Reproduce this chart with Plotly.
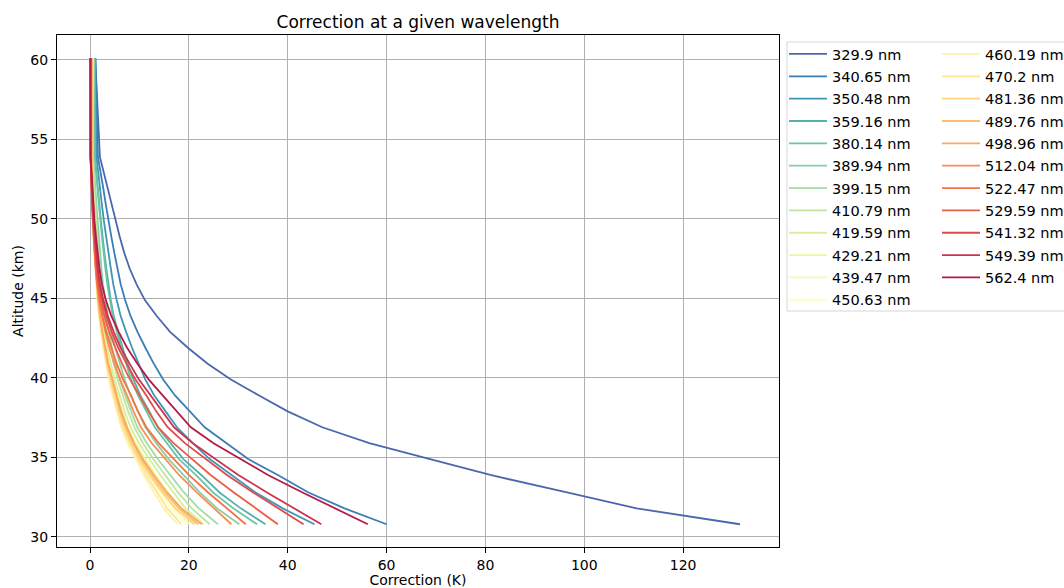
import plotly.graph_objects as go
import plotly.express as px
from plotly.colors import sample_colorscale

# Altitude grid of the retrieval (km)
altitude_km = [30.8, 31.8, 32.8, 33.9, 34.9, 35.9, 36.9, 37.9, 38.9, 39.9,
               40.9, 41.9, 42.9, 43.9, 44.9, 45.9, 46.9, 47.9, 48.9, 49.9,
               50.9, 51.9, 52.9, 53.9, 60.1]

wavelength_labels = ["329.9 nm", "340.65 nm", "350.48 nm", "359.16 nm", "380.14 nm",
                     "389.94 nm", "399.15 nm", "410.79 nm", "419.59 nm", "429.21 nm",
                     "439.47 nm", "450.63 nm", "460.19 nm", "470.2 nm", "481.36 nm",
                     "489.76 nm", "498.96 nm", "512.04 nm", "522.47 nm", "529.59 nm",
                     "541.32 nm", "549.39 nm", "562.4 nm"]

# Temperature correction (K) per wavelength, same order as altitude_km
corr_329_9 = [131.5, 110.6, 96.5, 81.0, 68.8, 56.5, 47.0, 40.0, 34.2, 28.5, 23.8, 19.8, 16.2, 13.5, 11.1, 9.4, 8.0, 6.9, 6.0, 5.2, 4.3, 3.5, 2.7, 2.0, 1.05]
corr_340_65 = [60.0, 51.5, 44.2, 38.0, 32.0, 27.5, 23.2, 20.2, 17.2, 14.8, 12.9, 11.2, 9.6, 8.2, 7.1, 6.2, 5.5, 4.9, 4.3, 3.7, 3.2, 2.7, 2.2, 1.6, 1.1]
corr_350_48 = [45.4, 39.0, 33.5, 28.7, 24.2, 20.8, 17.6, 15.3, 13.0, 11.2, 9.8, 8.5, 7.3, 6.2, 5.4, 4.7, 4.2, 3.7, 3.2, 2.8, 2.4, 2.0, 1.6, 1.3, 1.0]
corr_359_16 = [35.5, 30.5, 26.2, 22.5, 18.9, 16.3, 13.7, 12.0, 10.2, 8.8, 7.6, 6.6, 5.7, 4.8, 4.2, 3.7, 3.3, 2.9, 2.5, 2.2, 1.9, 1.6, 1.3, 1.0, 0.95]
corr_380_14 = [33.8, 29.0, 24.9, 21.4, 18.0, 15.5, 13.1, 11.4, 9.7, 8.3, 7.3, 6.3, 5.4, 4.6, 4.0, 3.5, 3.1, 2.7, 2.4, 2.1, 1.8, 1.5, 1.2, 0.95, 0.85]
corr_389_94 = [30.2, 25.7, 22.2, 18.9, 15.9, 13.4, 11.2, 9.7, 8.2, 7.0, 6.0, 5.1, 4.3, 3.6, 3.1, 2.6, 2.3, 2.0, 1.75, 1.54, 1.3, 1.09, 0.88, 0.66, 0.75]
corr_399_15 = [25.9, 22.0, 19.0, 16.2, 13.7, 11.5, 9.6, 8.3, 7.1, 6.0, 5.1, 4.4, 3.7, 3.1, 2.6, 2.25, 1.97, 1.71, 1.5, 1.32, 1.11, 0.93, 0.75, 0.57, 0.7]
corr_410_79 = [24.2, 20.6, 17.8, 15.1, 12.8, 10.7, 9.0, 7.7, 6.6, 5.6, 4.8, 4.1, 3.4, 2.9, 2.4, 2.1, 1.84, 1.6, 1.4, 1.23, 1.04, 0.87, 0.7, 0.53, 0.62]
corr_419_59 = [23.0, 19.3, 16.9, 14.2, 12.0, 9.9, 8.2, 7.0, 6.0, 5.0, 4.2, 3.5, 2.8, 2.4, 1.9, 1.6, 1.4, 1.2, 1.06, 0.92, 0.76, 0.62, 0.48, 0.35, 0.55]
corr_429_21 = [21.4, 18.0, 15.7, 13.2, 11.2, 9.2, 7.6, 6.5, 5.6, 4.6, 3.9, 3.2, 2.6, 2.2, 1.8, 1.5, 1.3, 1.1, 0.98, 0.86, 0.71, 0.58, 0.45, 0.32, 0.5]
corr_439_47 = [20.2, 17.0, 14.8, 12.4, 10.6, 8.7, 7.2, 6.1, 5.3, 4.4, 3.7, 3.1, 2.5, 2.1, 1.7, 1.4, 1.2, 1.05, 0.93, 0.81, 0.67, 0.55, 0.42, 0.3, 0.45]
corr_450_63 = [19.4, 16.3, 14.2, 12.0, 10.1, 8.3, 6.9, 5.9, 5.0, 4.2, 3.5, 2.9, 2.4, 2.0, 1.6, 1.4, 1.2, 1.0, 0.89, 0.78, 0.64, 0.52, 0.41, 0.29, 0.42]
corr_460_19 = [17.7, 14.9, 13.0, 10.9, 9.3, 7.6, 6.3, 5.4, 4.6, 3.8, 3.2, 2.7, 2.2, 1.8, 1.5, 1.26, 1.08, 0.92, 0.81, 0.71, 0.58, 0.48, 0.37, 0.27, 0.4]
corr_470_2 = [18.5, 15.6, 13.6, 11.4, 9.7, 8.0, 6.6, 5.6, 4.8, 4.0, 3.3, 2.8, 2.3, 1.9, 1.55, 1.3, 1.13, 0.96, 0.85, 0.74, 0.61, 0.5, 0.39, 0.28, 0.38]
corr_481_36 = [21.1, 17.3, 14.6, 12.0, 10.0, 8.3, 7.0, 5.9, 5.1, 4.2, 3.5, 2.9, 2.4, 2.0, 1.6, 1.4, 1.2, 1.0, 0.89, 0.76, 0.63, 0.51, 0.4, 0.3, 0.35]
corr_489_76 = [21.9, 18.0, 15.1, 12.5, 10.4, 8.7, 7.2, 6.1, 5.3, 4.4, 3.6, 3.0, 2.5, 2.0, 1.7, 1.4, 1.2, 1.05, 0.92, 0.79, 0.66, 0.53, 0.42, 0.31, 0.32]
corr_498_96 = [22.6, 18.5, 15.6, 12.9, 10.7, 8.9, 7.5, 6.3, 5.4, 4.5, 3.7, 3.1, 2.5, 2.1, 1.7, 1.5, 1.3, 1.1, 0.95, 0.81, 0.68, 0.54, 0.43, 0.32, 0.3]
corr_512_04 = [28.6, 25.0, 21.6, 18.0, 15.2, 12.5, 10.3, 8.8, 7.5, 6.1, 4.9, 3.9, 3.1, 2.4, 1.8, 1.4, 1.1, 0.9, 0.72, 0.56, 0.43, 0.33, 0.22, 0.14, 0.25]
corr_522_47 = [31.5, 27.6, 23.9, 20.0, 16.9, 13.9, 11.4, 9.7, 8.3, 6.7, 5.4, 4.3, 3.3, 2.5, 1.9, 1.45, 1.15, 0.92, 0.72, 0.55, 0.42, 0.31, 0.2, 0.12, 0.2]
corr_529_59 = [38.0, 33.5, 29.1, 24.4, 20.6, 16.9, 13.8, 11.8, 10.0, 8.1, 6.5, 5.1, 3.9, 2.9, 2.2, 1.65, 1.3, 1.03, 0.8, 0.61, 0.46, 0.34, 0.2, 0.1, 0.15]
corr_541_32 = [43.2, 38.1, 33.0, 27.7, 23.4, 19.2, 15.7, 13.4, 11.4, 9.2, 7.4, 5.7, 4.4, 3.3, 2.5, 1.85, 1.45, 1.15, 0.9, 0.68, 0.5, 0.36, 0.22, 0.1, 0.1]
corr_549_39 = [46.8, 41.2, 35.8, 30.0, 25.3, 20.8, 17.0, 14.6, 12.3, 9.9, 8.0, 6.2, 4.8, 3.6, 2.7, 2.0, 1.6, 1.25, 0.98, 0.75, 0.55, 0.4, 0.24, 0.1, 0.07]
corr_562_4 = [56.2, 49.5, 43.0, 36.0, 30.4, 25.0, 20.4, 17.5, 14.8, 11.9, 9.6, 7.5, 5.8, 4.3, 3.2, 2.4, 1.9, 1.5, 1.2, 0.9, 0.7, 0.5, 0.3, 0.12, 0.05]

corrections = [corr_329_9, corr_340_65, corr_350_48, corr_359_16, corr_380_14,
               corr_389_94, corr_399_15, corr_410_79, corr_419_59, corr_429_21,
               corr_439_47, corr_450_63, corr_460_19, corr_470_2, corr_481_36,
               corr_489_76, corr_498_96, corr_512_04, corr_522_47, corr_529_59,
               corr_541_32, corr_549_39, corr_562_4]

n = len(wavelength_labels)
# Spectral_r palette, endpoints excluded
colors = sample_colorscale(px.colors.diverging.Spectral_r,
                           [(i + 1) / (n + 1) for i in range(n)])

FONT = "DejaVu Sans"
half = 12

fig = go.Figure()
for i, (label, values) in enumerate(zip(wavelength_labels, corrections)):
    fig.add_trace(go.Scatter(
        x=values, y=altitude_km, mode="lines", name=label,
        line=dict(color=colors[i], width=1.8),
        legend="legend" if i < half else "legend2",
        legendgroup=label,
    ))

legend_common = dict(
    font=dict(family=FONT, size=14.5, color="#000000"),
    bgcolor="rgba(0,0,0,0)", borderwidth=0,
    xref="container", yref="container", yanchor="top", xanchor="left",
    tracegroupgap=0.5, itemwidth=38,
)

fig.update_layout(
    width=1064, height=588,
    margin=dict(l=57, r=285, t=35, b=41, autoexpand=False),
    paper_bgcolor="white", plot_bgcolor="white",
    font=dict(family=FONT, size=14, color="#000000"),
    title=dict(text="Correction at a given wavelength", x=418 / 1064, xanchor="center",
               xref="container", yref="container", y=1 - 22 / 588, yanchor="middle",
               font=dict(family=FONT, size=17, color="#000000")),
    xaxis=dict(range=[-6.68, 139.4], dtick=20, tick0=0, automargin=False,
               showline=True, mirror=True, linecolor="#000000", linewidth=1,
               ticks="outside", ticklen=5, tickcolor="#000000",
               showgrid=True, gridcolor="#b0b0b0", gridwidth=1, zeroline=False,
               title=dict(text="Correction (K)", standoff=2,
                          font=dict(family=FONT, size=14)),
               tickfont=dict(family=FONT, size=14)),
    yaxis=dict(range=[29.37, 61.57], dtick=5, tick0=30, automargin=False,
               showline=True, mirror=True, linecolor="#000000", linewidth=1,
               ticks="outside", ticklen=5, tickcolor="#000000",
               showgrid=True, gridcolor="#b0b0b0", gridwidth=1, zeroline=False,
               title=dict(text="Altitude (km)", standoff=3,
                          font=dict(family=FONT, size=14)),
               tickfont=dict(family=FONT, size=14)),
    legend=dict(x=784 / 1064, y=1 - 38 / 588, **legend_common),
    legend2=dict(x=937 / 1064, y=1 - 38 / 588, **legend_common),
    shapes=[dict(type="rect", xref="paper", yref="paper", layer="below",
                 x0=(787 - 57) / 722, x1=(1100 - 57) / 722,
                 y0=(547 - 311) / 512, y1=(547 - 42) / 512,
                 line=dict(color="#d6d6d6", width=1), fillcolor="white")],
)

fig.write_html("out.html")
